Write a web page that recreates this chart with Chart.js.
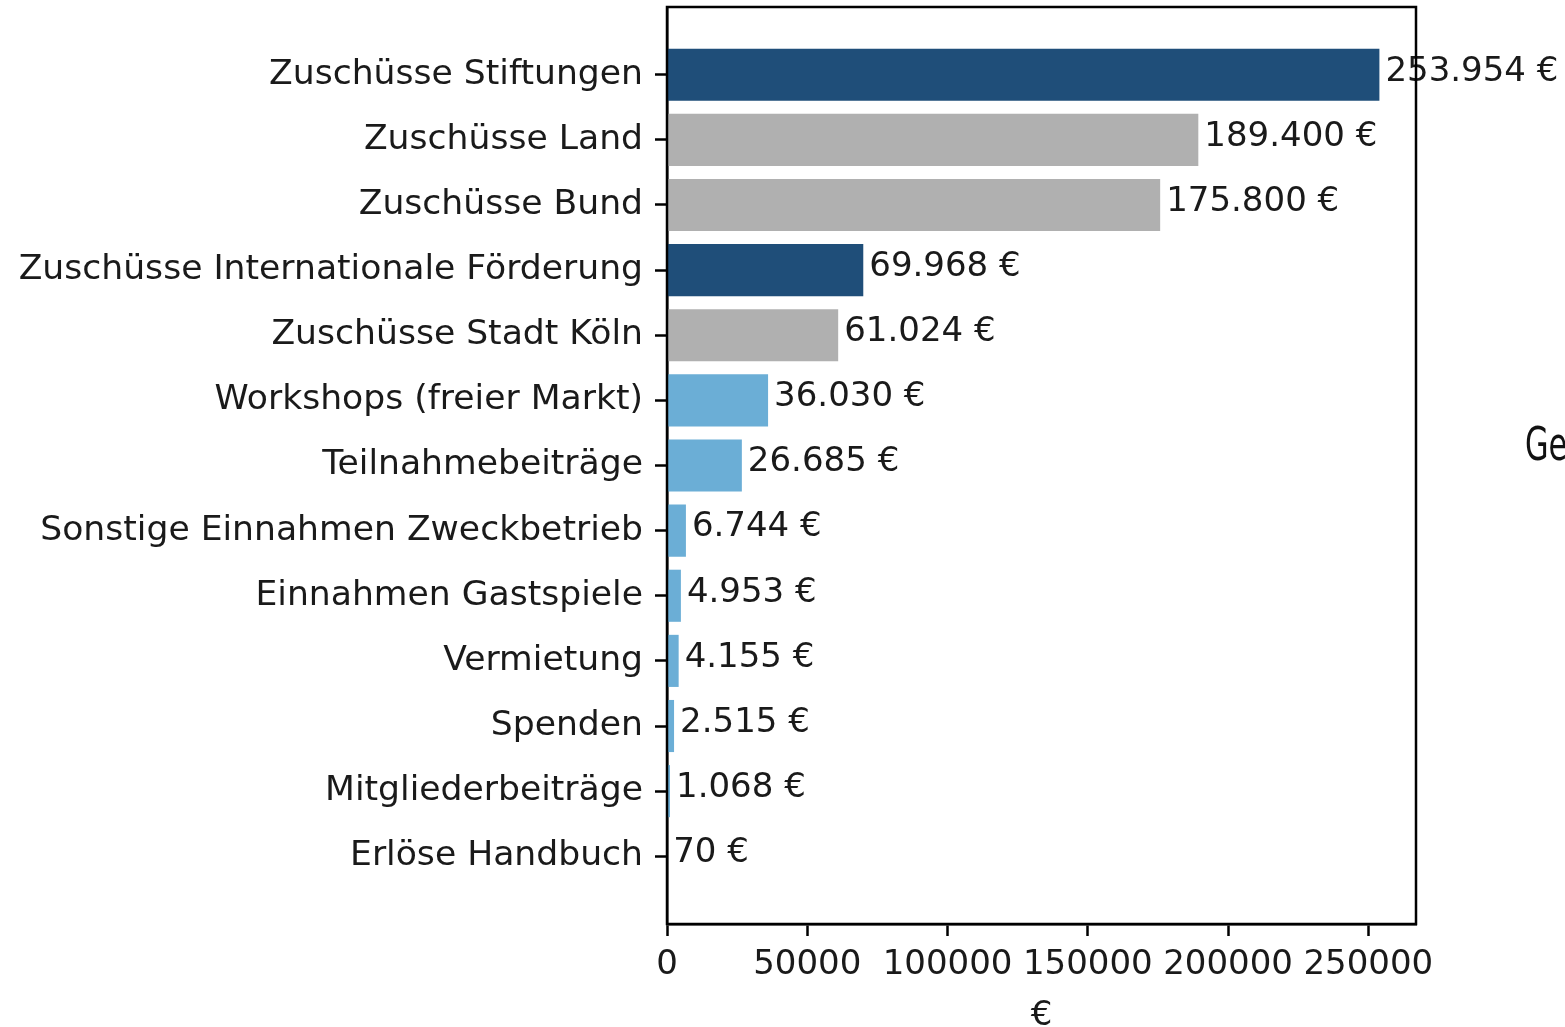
<!DOCTYPE html>
<html>
<head>
<meta charset="utf-8">
<script src="https://cdn.jsdelivr.net/npm/chart.js@4/dist/chart.umd.min.js"></script>
<style>
  html, body { margin: 0; padding: 0; background: #fff; overflow: hidden; }
  #wrap { position: relative; width: 1565px; height: 1027px; overflow: hidden; }
  #c { position: absolute; left: 0; top: 0; }
  #side { position: absolute; left: 1525px; top: 420px; font-family: "DejaVu Sans Condensed", "DejaVu Sans", sans-serif;
          font-size: 47px; color: #111; transform-origin: 0 0; transform: scaleX(0.72); white-space: nowrap; line-height: 1; }
</style>
</head>
<body>
<div id="wrap">
  <canvas id="c" width="1565" height="1027"></canvas>
  <div id="side">Ge</div>
</div>
<script>
const categories = [
  "Zuschüsse Stiftungen",
  "Zuschüsse Land",
  "Zuschüsse Bund",
  "Zuschüsse Internationale Förderung",
  "Zuschüsse Stadt Köln",
  "Workshops (freier Markt)",
  "Teilnahmebeiträge",
  "Sonstige Einnahmen Zweckbetrieb",
  "Einnahmen Gastspiele",
  "Vermietung",
  "Spenden",
  "Mitgliederbeiträge",
  "Erlöse Handbuch"
];
const values = [253954, 189400, 175800, 69968, 61024, 36030, 26685, 6744, 4953, 4155, 2515, 1068, 70];
const groups = ["dark", "gray", "gray", "dark", "gray", "light", "light", "light", "light", "light", "light", "light", "light"];
const groupColors = { dark: "#1f4e79", gray: "#b0b0b0", light: "#6baed6" };
const xTicks = [0, 50000, 100000, 150000, 200000, 250000];
const xMax = 267000;
const axisTitle = "€";

function fmtDE(v) {
  return String(v).replace(/\B(?=(\d{3})+(?!\d))/g, ".") + " €";
}

const FONT = "DejaVu Sans";
const TXT = "#1a1a1a";

const valueLabels = {
  id: "valueLabels",
  afterDatasetsDraw(chart) {
    const ctx = chart.ctx;
    const meta = chart.getDatasetMeta(0);
    ctx.save();
    ctx.font = "34px " + FONT;
    ctx.fillStyle = TXT;
    ctx.textAlign = "left";
    ctx.textBaseline = "middle";
    meta.data.forEach((el, i) => {
      ctx.fillText(fmtDE(values[i]), el.x + 6, el.y - 3);
    });
    ctx.restore();
  },
  afterDraw(chart) {
    const a = chart.chartArea;
    const ctx = chart.ctx;
    ctx.save();
    ctx.strokeStyle = "#000";
    ctx.lineWidth = 2.5;
    ctx.strokeRect(a.left, a.top, a.right - a.left, a.bottom - a.top);
    ctx.restore();
  }
};

new Chart(document.getElementById("c"), {
  type: "bar",
  data: {
    datasets: [{
      data: values.map((v, i) => ({ x: v, y: i })),
      backgroundColor: groups.map(g => groupColors[g]),
      borderWidth: 0,
      barPercentage: 0.8,
      categoryPercentage: 1.0
    }]
  },
  options: {
    indexAxis: "y",
    responsive: false,
    devicePixelRatio: 1,
    animation: false,
    layout: { padding: { top: 7, right: 149, left: 0, bottom: 0 } },
    plugins: { legend: { display: false }, tooltip: { enabled: false } },
    scales: {
      x: {
        type: "linear",
        position: "bottom",
        min: 0,
        max: xMax,
        offset: false,
        afterBuildTicks: (s) => { s.ticks = xTicks.map(v => ({ value: v })); },
        afterFit: (s) => { s.height = 103; s.paddingLeft = 0; s.paddingRight = 0; },
        ticks: {
          autoSkip: false,
          maxRotation: 0,
          padding: 9,
          color: TXT,
          font: { family: FONT, size: 34 },
          callback: (v) => String(v)
        },
        grid: { offset: false, drawOnChartArea: false, drawTicks: true, tickLength: 12, tickWidth: 2.5, tickColor: "#000" },
        border: { display: true, color: "#000", width: 2.5 },
        title: {
          display: true,
          text: axisTitle,
          color: TXT,
          font: { family: FONT, size: 34, lineHeight: 0.65 },
          padding: { top: 0, bottom: 0 }
        }
      },
      y: {
        type: "linear",
        reverse: true,
        min: -1.04,
        max: 13.04,
        offset: false,
        afterBuildTicks: (s) => { s.ticks = categories.map((_, i) => ({ value: i })); },
        afterFit: (s) => { s.width = 667; s.paddingTop = 0; s.paddingBottom = 0; },
        ticks: {
          autoSkip: false,
          padding: 12,
          color: TXT,
          font: { family: FONT, size: 34.6 },
          callback: (v) => categories[v]
        },
        grid: { offset: false, drawOnChartArea: false, drawTicks: true, tickLength: 12, tickWidth: 2.5, tickColor: "#000" },
        border: { display: true, color: "#000", width: 2.5 }
      }
    }
  },
  plugins: [valueLabels]
});
</script>
</body>
</html>
